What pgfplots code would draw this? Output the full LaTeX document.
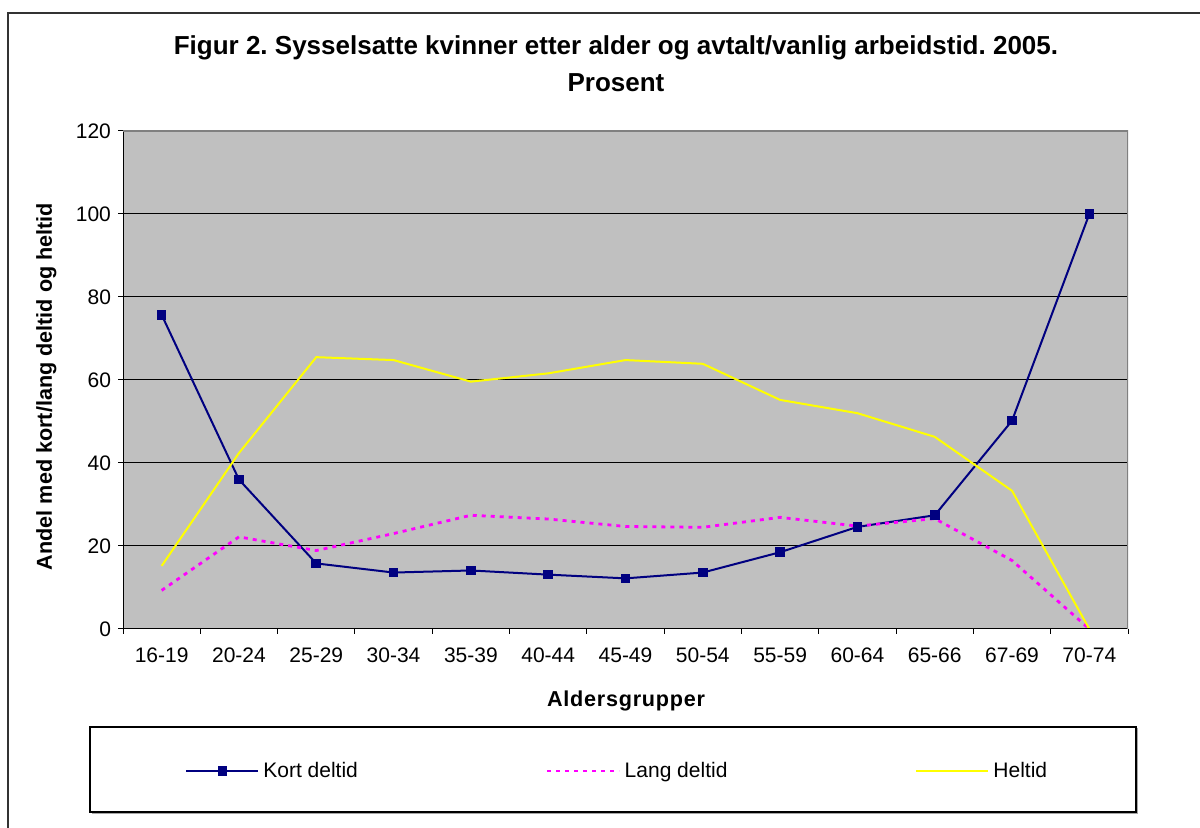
\documentclass[border=0pt]{standalone}
\usepackage{pgfplots}
\pgfplotsset{compat=1.18}
\usepackage{fontspec}
\setmainfont{Liberation Sans}
\frenchspacing
\definecolor{kort}{RGB}{0,0,128}
\definecolor{lang}{RGB}{255,0,255}
\definecolor{hel}{RGB}{255,255,0}
\definecolor{plotbg}{RGB}{192,192,192}
\begin{document}
\begin{tikzpicture}[x=1pt,y=1pt]
\path[use as bounding box] (0,0) rectangle (600,414);
\fill[white] (0,0) rectangle (600,414);
\draw[line width=1pt, black!80] (4,-2) -- (4,407.5) -- (602,407.5);
% legend frame
\draw[line width=1pt, gray!70] (46,7.5) -- (568.5,7.5) -- (568.5,50);
\draw[line width=0.6pt, black] (45,8) rectangle (568,50.5);
% title
\node[font=\bfseries\fontsize{13}{15}\selectfont] at (308,390) {Figur 2. Sysselsatte kvinner etter alder og avtalt/vanlig arbeidstid. 2005.};
\node[font=\bfseries\fontsize{13}{15}\selectfont] at (308,372.5) {Prosent};
% axis labels
\node[font=\bfseries\fontsize{10.8}{13}\selectfont, rotate=90] at (23.2,220.75) {Andel med kort/lang deltid og heltid};
\node[font=\bfseries\fontsize{10.8}{13}\selectfont] at (313,63.5) {\addfontfeatures{LetterSpace=3.5}Aldersgrupper};
\begin{axis}[
  at={(61.5pt,99.5pt)}, anchor=south west,
  scale only axis, width=502.5pt, height=249pt,
  xmin=-0.5, xmax=12.5, ymin=0, ymax=120,
  xtick={0,...,12},
  xticklabels={16-19,20-24,25-29,30-34,35-39,40-44,45-49,50-54,55-59,60-64,65-66,67-69,70-74},
  minor xtick={-0.5,0.5,...,12.5},
  ytick={0,20,...,120},
  xtick pos=bottom, ytick pos=left,
  major x tick style={draw=none},
  tick align=outside,
  major tick length=2.5pt, minor tick length=2.5pt,
  tick style={black, line width=0.5pt},
  ymajorgrids, major grid style={black, line width=0.5pt},
  axis line style={draw=none},
  axis background/.style={fill=plotbg},
  /pgf/number format/assume math mode=true,
  ticklabel style={font=\fontsize{10.5}{12}\selectfont},
  xticklabel style={yshift=-3.5pt},
  legend columns=3,
  legend style={draw=none, fill=none, at={(0.0557,-0.2851)}, anchor=west,
    font=\fontsize{10.5}{12}\selectfont,
    /tikz/every even column/.append style={column sep=92pt}},
  legend image code/.code={\draw[mark repeat=2,mark phase=2,#1] plot coordinates {(0pt,0pt) (18pt,0pt) (36pt,0pt)};},
]
\addplot[kort, line width=1pt, mark=square*, mark size=1.9pt, mark options={solid}] coordinates {
(0,75.7) (1,36.0) (2,15.8) (3,13.6) (4,14.1) (5,13.1) (6,12.2) (7,13.6) (8,18.5) (9,24.6) (10,27.4) (11,50.2) (12,100)};
\addlegendentry{Kort deltid}
\addplot[lang, line width=1.4pt, dash pattern=on 2pt off 2.5pt] coordinates {
(0,9.3) (1,22.2) (2,18.9) (3,23.0) (4,27.4) (5,26.5) (6,24.7) (7,24.5) (8,26.9) (9,24.8) (10,26.6) (11,16.5) (12,0)};
\addlegendentry{Lang deltid}
\addplot[hel, line width=1pt] coordinates {
(0,15.2) (1,42.4) (2,65.5) (3,64.8) (4,59.6) (5,61.6) (6,64.8) (7,63.9) (8,55.2) (9,52.0) (10,46.3) (11,33.3) (12,0)};
\addlegendentry{Heltid}
\draw[black, line width=0.6pt] (rel axis cs:0,1) -- (rel axis cs:0,0) -- (rel axis cs:1,0);
\draw[gray, line width=1pt] (rel axis cs:0,1) -- (rel axis cs:1,1) -- (rel axis cs:1,0);
\end{axis}
\end{tikzpicture}
\end{document}
